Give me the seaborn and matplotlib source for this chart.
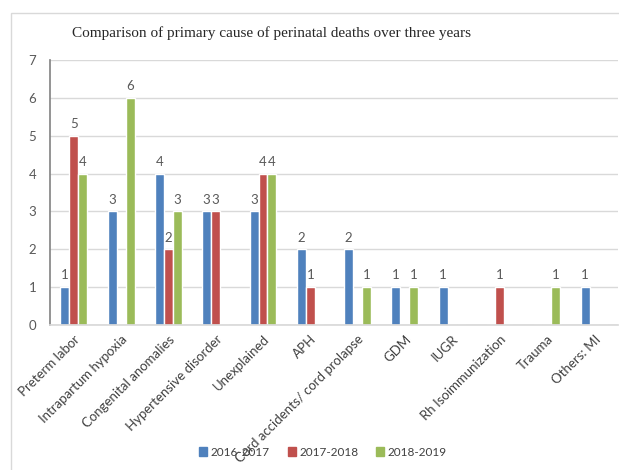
#!/usr/bin/env python3
# Grouped bar chart: primary cause of perinatal deaths over three years.
import matplotlib.pyplot as plt
from matplotlib.patches import Rectangle
import pandas as pd
import seaborn as sns


CAUSES = ['Preterm labor', 'Intrapartum hypoxia', 'Congenital anomalies',
          'Hypertensive disorder', 'Unexplained', 'APH',
          'Cord accidents/ cord prolapse', 'GDM', 'IUGR',
          'Rh Isoimmunization', 'Trauma', 'Others: MI']
YEARS = ['2016-2017', '2017-2018', '2018-2019']
Y2016 = [1, 3, 4, 3, 3, 2, 2, 1, 1, 0, 0, 1]
Y2017 = [5, 0, 2, 3, 4, 1, 0, 0, 0, 1, 0, 0]
Y2018 = [4, 6, 3, 0, 4, 0, 1, 1, 0, 0, 1, 0]
COLORS = ['#4F81BD', '#C0504D', '#9BBB59']


def main():
    rows = []
    for year, vals in zip(YEARS, [Y2016, Y2017, Y2018]):
        for cause, v in zip(CAUSES, vals):
            rows.append({'cause': cause, 'year': year, 'deaths': v})
    data = pd.DataFrame(rows)

    sns.set_theme(style='white')
    plt.rcParams['font.family'] = ['Lato', 'DejaVu Sans']

    fig = plt.figure(figsize=(6.19, 4.70), dpi=100)
    ax = fig.add_axes([0.081, 0.309, 0.917, 0.563])

    sns.barplot(data=data, x='cause', y='deaths', hue='year', order=CAUSES,
                hue_order=YEARS, palette=COLORS, width=0.57, saturation=1,
                ax=ax, legend=False)

    # Data labels, only for nonzero bars
    for container in ax.containers:
        labels = ['{:g}'.format(b.get_height()) if b.get_height() > 0 else ''
                  for b in container]
        ax.bar_label(container, labels=labels, padding=4, fontsize=9.5,
                     color='#595959')

    ax.set_ylim(0, 7)
    ax.set_yticks(range(0, 8))
    ax.yaxis.grid(True, color='#D9D9D9', linewidth=1)
    ax.set_axisbelow(True)
    ax.set_xlim(-0.5, len(CAUSES) - 0.5)
    ax.set_xlabel('')
    ax.set_ylabel('')
    ax.tick_params(axis='y', labelsize=9.5, labelcolor='#595959', length=0, pad=10)
    ax.tick_params(axis='x', labelsize=9.5, labelcolor='#404040', length=0, pad=6)
    plt.setp(ax.get_xticklabels(), rotation=45, ha='right', rotation_mode='anchor')
    for side in ['top', 'right']:
        ax.spines[side].set_visible(False)
    ax.spines['left'].set_color('#868686')
    ax.spines['bottom'].set_color('#D9D9D9')

    fig.text(272 / 619, 1 - 33 / 470,
             'Comparison of primary cause of perinatal deaths over three years',
             ha='center', va='center', fontsize=11, family='Liberation Serif')

    handles = [Rectangle((0, 0), 1, 1, color=c) for c in COLORS]
    fig.legend(handles, YEARS, loc='center', bbox_to_anchor=(323 / 619, 0.038), ncol=3,
               frameon=False, fontsize=8.5, handlelength=0.7, handleheight=0.7,
               handletextpad=0.3, columnspacing=1.5, labelcolor='#404040')

    # Outer chart frame
    fig.patches.append(Rectangle((11 / 619, -0.05), 1.0, 1 - 13 / 470 + 0.05,
                                 transform=fig.transFigure, fill=False,
                                 edgecolor='#D9D9D9', linewidth=1))

    fig.savefig('out.png', dpi=100)
    plt.close()


if __name__ == '__main__':
    main()
